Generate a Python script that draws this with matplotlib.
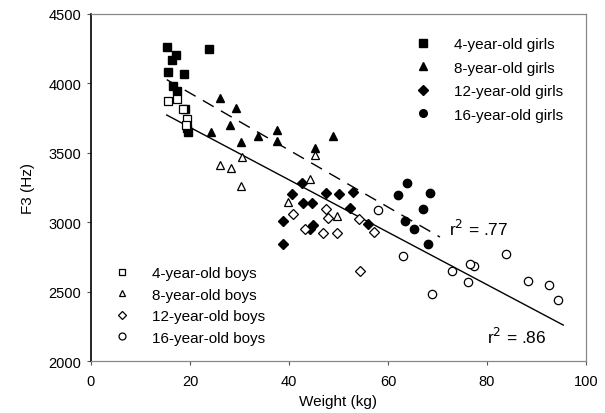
import numpy as np
import matplotlib
matplotlib.use("Agg")
import matplotlib.pyplot as plt
from matplotlib.lines import Line2D

plt.rcParams['font.family'] = ['Liberation Sans', 'DejaVu Sans']

# girls (filled markers)
g4_kg = [15.4, 23.8, 17.2, 16.4, 15.6, 18.8, 16.6, 17.4, 19.0, 19.4, 19.6]
g4_hz = [4260, 4245, 4205, 4165, 4085, 4065, 3980, 3945, 3815, 3680, 3650]
g8_kg = [26.1, 29.3, 28.1, 24.2, 30.3, 33.7, 37.6, 37.6, 48.9, 45.3]
g8_hz = [3895, 3823, 3700, 3650, 3578, 3621, 3664, 3585, 3621, 3535]
g12_kg = [42.6, 40.6, 47.5, 50.2, 52.9, 42.8, 44.6, 52.3, 38.8, 44.8, 44.2, 38.8, 56.0]
g12_hz = [3282, 3200, 3210, 3203, 3218, 3140, 3140, 3102, 3009, 2980, 2951, 2843, 2987]
g16_kg = [63.8, 62.0, 68.5, 67.1, 63.4, 65.3, 68.1]
g16_hz = [3282, 3196, 3210, 3095, 3009, 2951, 2843]

# boys (open markers)
b4_kg = [15.6, 17.4, 18.6, 19.3, 19.2]
b4_hz = [3873, 3890, 3816, 3745, 3700]
b8_kg = [26.1, 28.3, 30.3, 30.5, 45.3, 44.2, 39.8, 49.7]
b8_hz = [3412, 3390, 3261, 3470, 3484, 3311, 3145, 3045]
b12_kg = [40.8, 47.5, 47.9, 43.2, 46.9, 49.7, 54.1, 57.2, 54.3]
b12_hz = [3059, 3095, 3030, 2951, 2922, 2922, 3023, 2929, 2648]
b16_kg = [58.0, 63.0, 68.9, 72.9, 77.4, 76.6, 76.2, 83.8, 88.3, 92.5, 94.3]
b16_hz = [3088, 2756, 2483, 2648, 2684, 2698, 2569, 2771, 2576, 2547, 2440]

# regression line endpoints
girls_fit_kg = [15.3, 70.5]
girls_fit_hz = [4027, 2893]
boys_fit_kg = [15.3, 95.4]
boys_fit_hz = [3772, 2259]

girls_labels = ['4-year-old girls', '8-year-old girls', '12-year-old girls', '16-year-old girls']
boys_labels = ['4-year-old boys', '8-year-old boys', '12-year-old boys', '16-year-old boys']

fig = plt.figure(figsize=(6.05, 4.14), dpi=100)
ax = fig.add_axes([0.1504, 0.1256, 0.8182, 0.8382])

ms = 6
for x, y, m in [(g4_kg, g4_hz, 's'), (g8_kg, g8_hz, '^'), (g12_kg, g12_hz, 'D'), (g16_kg, g16_hz, 'o')]:
    ax.plot(x, y, ls='none', marker=m, ms=ms if m != 'D' else ms - 0.8,
            mfc='black', mec='black', zorder=3)
for x, y, m in [(b4_kg, b4_hz, 's'), (b8_kg, b8_hz, '^'), (b12_kg, b12_hz, 'D'), (b16_kg, b16_hz, 'o')]:
    ax.plot(x, y, ls='none', marker=m, ms=ms if m != 'D' else ms - 0.8,
            mfc='white', mec='black', mew=0.9, zorder=3)

ax.plot(girls_fit_kg, girls_fit_hz, color='black', lw=1.0, dashes=(9, 6), zorder=2)
ax.plot(boys_fit_kg, boys_fit_hz, color='black', lw=1.0, zorder=2)

ax.text(72.3, 2960, r'r$^2$ = .77', fontsize=12.5, va='center')
ax.text(80.0, 2180, r'r$^2$ = .86', fontsize=12.5, va='center')

ax.set_xlim(0, 100)
ax.set_ylim(2000, 4500)
ax.set_xticks(np.arange(0, 101, 20))
ax.set_yticks(np.arange(2000, 4501, 500))
ax.tick_params(direction='out', length=3, width=0.8, labelsize=10.5, color='#555555', pad=4)
ax.tick_params(axis='x', pad=6)
ax.set_xlabel('Weight (kg)', fontsize=11, labelpad=5)
ax.set_ylabel('F3 (Hz)', fontsize=11, labelpad=10)

for s in ['top', 'right', 'bottom']:
    ax.spines[s].set_color('#888888')
    ax.spines[s].set_linewidth(0.9)
ax.spines['left'].set_color('black')
ax.spines['left'].set_linewidth(1.2)

gh = [Line2D([], [], ls='none', marker=m, ms=5.5 if m != 'D' else 5, mfc='black', mec='black')
      for m in ['s', '^', 'D', 'o']]
bh = [Line2D([], [], ls='none', marker=m, ms=5 if m != 'D' else 4.5, mfc='white', mec='black', mew=0.9)
      for m in ['s', '^', 'D', 'o']]

leg1 = ax.legend(gh, girls_labels, loc='upper left', bbox_to_anchor=(0.64, 0.955),
                 frameon=False, fontsize=11, handlelength=1.0, handletextpad=1.5,
                 labelspacing=0.62, borderpad=0)
ax.add_artist(leg1)
ax.legend(bh, boys_labels, loc='upper left', bbox_to_anchor=(0.031, 0.296),
          frameon=False, fontsize=11, handlelength=1.0, handletextpad=1.5,
          labelspacing=0.5, borderpad=0)

fig.savefig('out.png', dpi=100)
